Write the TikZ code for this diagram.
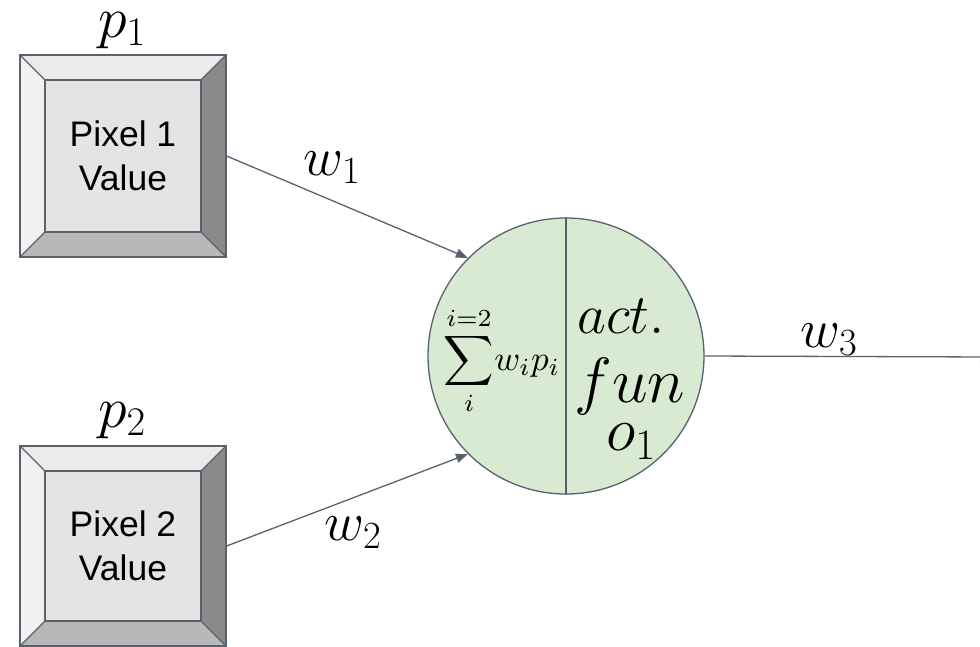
\RequirePackage{fix-cm}
\documentclass[tikz,border=0pt]{standalone}
\usepackage{amsmath}
\usepackage{fontspec}
\newfontfamily\arialfont{Liberation Sans}
\usetikzlibrary{arrows.meta}
\definecolor{edge}{RGB}{88,98,110}
\definecolor{bvtop}{RGB}{235,235,235}
\definecolor{bvleft}{RGB}{241,241,241}
\definecolor{bvright}{RGB}{138,138,138}
\definecolor{bvbottom}{RGB}{184,184,184}
\definecolor{bvface}{RGB}{228,228,228}
\definecolor{neuronfill}{RGB}{217,234,211}
\begin{document}
\begin{tikzpicture}[x=1pt,y=-1pt,
  pixbox/.style={draw=edge, line width=1.2pt, fill=bvface,
    minimum width=206pt, minimum height=#1, inner sep=0pt, align=center,
    font=\arialfont\fontsize{35.5}{44}\selectfont,
    path picture={
      \coordinate (pnw) at (path picture bounding box.north west);
      \coordinate (pne) at (path picture bounding box.north east);
      \coordinate (psw) at (path picture bounding box.south west);
      \coordinate (pse) at (path picture bounding box.south east);
      \fill[bvtop] (pnw) -- (pne) -- ([shift={(-25pt,-25pt)}]pne) -- ([shift={(25pt,-25pt)}]pnw) -- cycle;
      \fill[bvbottom] (psw) -- (pse) -- ([shift={(-25pt,25pt)}]pse) -- ([shift={(25pt,25pt)}]psw) -- cycle;
      \fill[bvleft] (pnw) -- ([shift={(25pt,-25pt)}]pnw) -- ([shift={(25pt,25pt)}]psw) -- (psw) -- cycle;
      \fill[bvright] (pne) -- ([shift={(-25pt,-25pt)}]pne) -- ([shift={(-25pt,25pt)}]pse) -- (pse) -- cycle;
      \draw[edge, line width=1.2pt] ([shift={(25pt,-25pt)}]pnw) rectangle ([shift={(-25pt,25pt)}]pse);
      \draw[edge, line width=1.2pt]
        (pnw) -- ([shift={(25pt,-25pt)}]pnw)
        (pne) -- ([shift={(-25pt,-25pt)}]pne)
        (psw) -- ([shift={(25pt,25pt)}]psw)
        (pse) -- ([shift={(-25pt,25pt)}]pse);
    }},
  conn/.style={draw=edge, line width=1.3pt, -{Triangle[length=12pt,width=9pt]}},
  mathlbl/.style={anchor=base, inner sep=0pt, font=\fontsize{#1}{#1}\selectfont},
  mathlbl/.default=55]
\useasboundingbox (0,0) rectangle (980,646);

\node[pixbox=202pt] (b1) at (123,156) {Pixel 1\\Value};
\node[pixbox=200pt] (b2) at (123,546) {Pixel 2\\Value};

\node[circle, draw=edge, line width=1.3pt, fill=neuronfill, minimum size=276pt, inner sep=0pt] (n) at (566,356) {};
\draw[edge, line width=1.3pt] (n.north) -- (n.south);

\node[inner sep=0pt, anchor=base, scale=3.5, transform shape] (sum) at (502,370)
  {$\displaystyle\sum_{i}^{i=2}\!w_ip_i$};
\node[mathlbl=56] (act) at (621,333) {$act.$};
\node[mathlbl=64] (fun) at (630,402) {$fun$};
\node[mathlbl=62] (o1) at (631,450) {$o_1$};

\node[mathlbl=58] (lp1) at (122,37) {$p_1$};
\node[mathlbl=58] (lp2) at (122,427) {$p_2$};
\node[mathlbl] (lw1) at (332,175) {$w_1$};
\node[mathlbl] (lw2) at (353,540) {$w_2$};
\node[mathlbl] (lw3) at (829,347) {$w_3$};

\coordinate (out) at (992,357);
\draw[conn] (b1.east) -- (n.135);
\draw[conn] (b2.east) -- (n.225);
\draw[conn] (n.east) -- (out);
\end{tikzpicture}
\end{document}
